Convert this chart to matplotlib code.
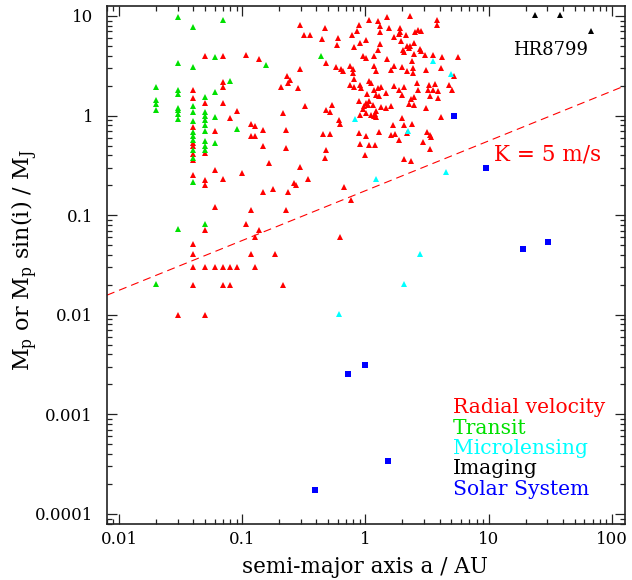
import numpy as np
import matplotlib
matplotlib.use("Agg")
import matplotlib.pyplot as plt
from matplotlib.ticker import LogLocator, NullFormatter, FixedFormatter, FixedLocator

plt.rcParams['font.family'] = ['DejaVu Serif']
plt.rcParams['mathtext.fontset'] = 'dejavuserif'

# radial velocity detections: semi-major axis (AU), M sin(i) (M_J)
rv_a = [
    0.03, 0.05,
    0.04, 0.04, 0.04, 0.04, 0.04, 0.04, 0.04, 0.04, 0.04, 0.04, 0.04, 0.04,
    0.05, 0.05, 0.05, 0.05, 0.05, 0.05, 0.05,
    0.06, 0.06, 0.06, 0.06,
    0.07, 0.07, 0.07, 0.07, 0.07, 0.07, 0.07,
    0.08, 0.08, 0.08, 0.09, 0.09, 0.10,
    0.107, 0.138, 0.117, 0.127, 0.117, 0.127, 0.148, 0.148, 0.216, 0.226,
    0.226, 0.166, 0.148, 0.177, 0.235, 0.263, 0.275, 0.297, 0.345, 0.117,
    0.226, 0.107, 0.138, 0.127, 0.117, 0.186, 0.127, 0.216, 0.297, 0.316,
    0.355, 0.47, 0.442, 0.60, 0.588, 0.48, 0.295, 0.58, 0.64, 0.66,
    0.23, 0.245, 0.235, 0.207, 0.284, 0.324, 0.54, 0.48, 0.52, 0.615,
    0.627, 0.45, 0.52, 0.48, 0.47, 0.667, 0.76, 0.62,
    1.50, 2.32, 1.08, 1.26, 3.81, 3.81, 0.88, 0.855, 1.32, 1.31,
    1.55, 1.90, 1.92, 1.87, 0.774, 1.72, 2.12, 2.54, 2.66, 2.83,
    1.02, 0.90, 1.95, 0.81, 1.32, 1.27, 2.32, 2.47, 2.17, 2.26,
    2.02, 2.07, 2.76, 2.83, 2.47, 3.07, 3.54, 4.16, 5.68, 0.956,
    1.01, 1.17, 1.50, 2.41, 0.755, 1.17, 1.23, 1.72, 1.97, 2.17,
    2.42, 2.43, 3.13, 4.10,
    0.79, 0.79, 1.61, 5.2, 0.81, 0.745, 0.81, 0.91, 0.93, 1.08,
    1.11, 1.17, 1.26, 1.34, 1.03, 1.23, 1.28, 1.48, 1.70, 1.86,
    2.04, 1.98, 2.63, 2.66, 3.28, 3.67, 3.22, 3.54, 3.86, 4.8,
    5.08, 3.37, 3.88, 2.47, 2.36, 0.88, 1.02, 1.08, 0.97, 1.06,
    1.15, 0.95, 0.91, 1.01, 1.2, 1.23, 1.34, 1.48, 1.61, 2.25,
    2.50, 3.1, 4.11, 1.98, 2.39, 2.07, 1.68, 1.11, 1.17, 1.21,
    0.88, 1.01, 1.28, 1.61, 1.74, 1.86, 2.19, 3.14, 3.32, 3.39,
    2.93, 3.33, 0.90, 1.08, 1.2, 0.99, 2.07, 2.36,
]
rv_m = [
    0.01, 0.01,
    1.82, 1.5, 0.77, 0.53, 0.49, 0.41, 0.36, 0.252, 0.051, 0.0404, 0.02, 0.03,
    3.94, 1.34, 0.42, 0.224, 0.203, 0.071, 0.03,
    0.70, 0.283, 0.121, 0.03,
    3.94, 2.16, 1.92, 1.34, 0.233, 0.03, 0.02,
    0.95, 0.03, 0.02, 1.10, 0.03, 0.266,
    4.09, 3.73, 0.83, 0.78, 0.63, 0.63, 0.72, 0.49, 1.05, 0.72,
    0.47, 0.335, 0.171, 0.184, 0.171, 0.211, 0.203, 0.306, 0.233, 0.112,
    0.112, 0.081, 0.071, 0.0607, 0.0404, 0.0404, 0.03, 0.02, 8.15, 6.4,
    6.45, 7.5, 5.82, 5.95, 5.07, 3.4, 2.94, 3.05, 2.95, 2.8,
    2.52, 2.30, 2.13, 1.95, 1.90, 1.24, 1.29, 1.15, 1.09, 0.91,
    0.83, 0.66, 0.65, 0.456, 0.377, 0.193, 0.141, 0.061,
    9.78, 9.9, 9.18, 8.9, 9.18, 8.12, 8.05, 7.13, 7.87, 6.96,
    7.5, 7.63, 6.96, 6.59, 6.4, 6.15, 6.44, 6.96, 7.18, 7.0,
    5.79, 5.36, 5.66, 4.84, 5.24, 4.59, 5.03, 5.36, 4.95, 4.77,
    4.59, 4.38, 4.66, 4.42, 4.19, 4.09, 4.09, 3.88, 3.88, 3.94,
    3.76, 3.94, 3.70, 3.50, 3.17, 3.12, 2.78, 3.15, 3.06, 2.78,
    3.0, 2.68, 2.9, 3.0,
    2.96, 2.68, 2.89, 2.48, 2.33, 2.01, 1.92, 2.01, 1.90, 2.21,
    2.13, 1.82, 1.90, 1.92, 1.65, 1.62, 1.56, 1.69, 1.97, 1.82,
    1.92, 1.62, 2.13, 1.82, 2.05, 2.08, 1.82, 1.82, 1.78, 2.01,
    1.82, 1.56, 1.50, 1.53, 1.48, 1.41, 1.35, 1.41, 1.25, 1.27,
    1.29, 1.17, 1.02, 1.06, 1.04, 1.10, 1.21, 1.19, 1.24, 1.31,
    1.27, 1.18, 0.96, 0.95, 0.83, 0.81, 0.81, 1.02, 0.98, 0.97,
    0.67, 0.62, 0.686, 0.635, 0.65, 0.575, 0.67, 0.686, 0.645, 0.61,
    0.545, 0.467, 0.524, 0.51, 0.51, 0.406, 0.368, 0.354,
]

# transit detections
tr_a = [
    0.02, 0.02, 0.02, 0.02, 0.02,
    0.03, 0.03, 0.03, 0.03, 0.03, 0.03, 0.03, 0.03, 0.03,
    0.04, 0.04, 0.04, 0.04, 0.04, 0.04, 0.04, 0.04, 0.04, 0.04, 0.04,
    0.05, 0.05, 0.05, 0.05, 0.05, 0.05, 0.05, 0.05, 0.05, 0.05,
    0.06, 0.06, 0.06, 0.06, 0.07, 0.08, 0.09, 0.157, 0.44,
]
tr_m = [
    1.94, 1.45, 1.32, 1.13, 0.0203,
    9.8, 3.38, 1.79, 1.66, 1.18, 1.13, 1.04, 0.93, 0.072,
    7.76, 3.08, 1.24, 1.08, 0.877, 0.68, 0.62, 0.575, 0.456, 0.377, 0.214,
    1.54, 1.08, 1.0, 0.91, 0.81, 0.70, 0.55, 0.49, 0.456, 0.081,
    3.85, 1.74, 0.97, 0.532, 9.18, 2.24, 0.735, 3.25, 3.93,
]

# microlensing detections
ml_a = [3.54, 4.95, 0.83, 2.23, 4.54, 1.23, 2.76, 2.07, 0.61]
ml_m = [3.5, 2.62, 0.93, 0.707, 0.272, 0.232, 0.0406, 0.0205, 0.0102]

# direct imaging (HR 8799 system)
im_a = [24.0, 38.0, 68.0]
im_m = [10.3, 10.3, 7.0]

# solar system planets
ss_a = [0.387, 0.723, 1.0, 1.524, 5.20, 9.54, 19.2, 30.1]
ss_m = [0.000174, 0.00256, 0.00315, 0.000338, 1.0, 0.299, 0.0457, 0.054]

# detection limit for a 1 M_sun host; Jupiter at 1 AU gives 28.4 m/s
k_limit = 5.0
k_jup_1au = 28.4

fig = plt.figure(figsize=(6.32, 5.80), dpi=100)
ax = fig.add_axes([107 / 632, 1 - 524.3 / 580, 518 / 632, 518.3 / 580])
ax.set_xscale('log')
ax.set_yscale('log')
ax.set_xlim(0.0080, 128)
ax.set_ylim(7.88e-5, 12.6)

ms = 4.8
ax.plot(rv_a, rv_m, '^', color='#ff0000', ms=ms, mew=0, zorder=3)
ax.plot(tr_a, tr_m, '^', color='#00e000', ms=ms, mew=0, zorder=4)
ax.plot(ml_a, ml_m, '^', color='#00ffff', ms=4.0, mew=0, zorder=5)
ax.plot(im_a, im_m, '^', color='black', ms=3.8, mew=0, zorder=5)
ax.plot(ss_a, ss_m, 's', color='#0000ff', ms=4.6, mew=0, zorder=6)

aa = np.logspace(np.log10(0.008), np.log10(128), 50)
ax.plot(aa, k_limit / k_jup_1au * np.sqrt(aa), color='#ff0000', lw=0.8,
        dashes=(7.2, 4.5), zorder=2)

ax.text(11, 0.406, 'K = 5 m/s', color='#ff0000', fontsize=15.5, ha='left', va='center')
ax.text(15.7, 4.59, 'HR8799', color='black', fontsize=13, ha='left', va='center')

legend = [('Radial velocity', '#ff0000'), ('Transit', '#00e000'),
          ('Microlensing', '#00ffff'), ('Imaging', 'black'),
          ('Solar System', '#0000ff')]
for i, (txt, col) in enumerate(legend):
    ax.text(0.668, 0.2244 - i * 0.0392, txt, color=col, fontsize=14.6,
            transform=ax.transAxes, ha='left', va='center')

# inward ticks on all four sides
ax.xaxis.set_major_locator(FixedLocator([0.01, 0.1, 1, 10, 100]))
ax.xaxis.set_major_formatter(FixedFormatter(['0.01', '0.1', '1', '10', '100']))
ax.yaxis.set_major_locator(FixedLocator([1e-4, 1e-3, 1e-2, 0.1, 1, 10]))
ax.yaxis.set_major_formatter(FixedFormatter(['0.0001', '0.001', '0.01', '0.1', '1', '10']))
for axis in (ax.xaxis, ax.yaxis):
    axis.set_minor_locator(LogLocator(base=10, subs=np.arange(2, 10), numticks=20))
    axis.set_minor_formatter(NullFormatter())
ax.tick_params(which='both', direction='in', top=True, right=True, width=0.9, colors='#222222')
ax.tick_params(which='major', length=7)
ax.tick_params(which='minor', length=3.5)
ax.tick_params(axis='x', which='major', pad=5, labelsize=12, labelcolor='black')
ax.tick_params(axis='y', which='major', pad=10, labelsize=12, labelcolor='black')
for sp in ax.spines.values():
    sp.set_linewidth(1.2)
    sp.set_color('#222222')

fig.text(364.5 / 632, 1 - 567 / 580, 'semi-major axis a / AU', fontsize=15.5,
         ha='center', va='center')
fig.text(25 / 632, 1 - 260 / 580,
         r'M$_\mathrm{p}$ or M$_\mathrm{p}$ sin(i) / M$_\mathrm{J}$',
         fontsize=16, ha='center', va='center', rotation=90)

fig.savefig('out.png', dpi=100)
